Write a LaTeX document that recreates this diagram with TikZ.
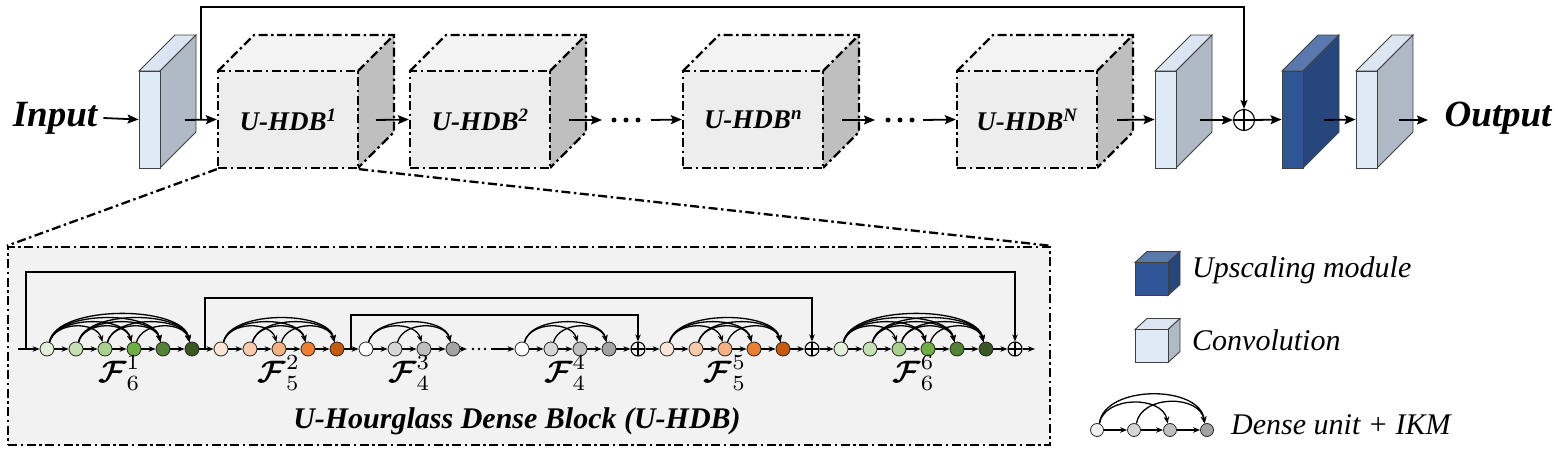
\documentclass[tikz,border=0pt]{standalone}
\usepackage{fontspec}
\setmainfont{Liberation Serif}
\usepackage{amsmath,bm,graphicx}
\usetikzlibrary{arrows.meta,calc}
\definecolor{cfront}{HTML}{EDEDED}
\definecolor{ctop}{HTML}{F3F3F3}
\definecolor{cside}{HTML}{BFBFBF}
\definecolor{vfront}{HTML}{DEEAF6}
\definecolor{vtop}{HTML}{DCE6F2}
\definecolor{vside}{HTML}{B0BAC6}
\definecolor{ufront}{HTML}{2F5597}
\definecolor{utop}{HTML}{5A78AE}
\definecolor{uside}{HTML}{27467C}
\definecolor{boxbg}{HTML}{F2F2F2}
\definecolor{ga}{HTML}{E2F0D9}
\definecolor{gb}{HTML}{C5E0B4}
\definecolor{gc}{HTML}{A9D18E}
\definecolor{gd}{HTML}{70AD47}
\definecolor{ge}{HTML}{548235}
\definecolor{gf}{HTML}{385723}
\definecolor{oa}{HTML}{FBE5D6}
\definecolor{ob}{HTML}{F8CBAD}
\definecolor{oc}{HTML}{F4B183}
\definecolor{od}{HTML}{ED7D31}
\definecolor{oe}{HTML}{C55A11}
\definecolor{ka}{HTML}{FFFFFF}
\definecolor{kb}{HTML}{D6D6D6}
\definecolor{kc}{HTML}{BFBFBF}
\definecolor{kd}{HTML}{A3A3A3}
\definecolor{la}{HTML}{EFEFEF}

\newcommand{\dgroup}[3]{%
  \foreach \c [count=\i] in {#3} {
    \node[du, fill=\c] (#1\i) at ({#2+29*(\i-1)},349) {};
    \xdef\dgn{\i}
  }
  \pgfmathtruncatemacro\dgm{\dgn-1}
  \foreach \i [evaluate=\i as \j using int(\i+1)] in {1,...,\dgm} {\draw[sarr] (#1\i) -- (#1\j);}
  \pgfmathtruncatemacro\dgk{\dgn-2}
  \foreach \i in {1,...,\dgk} {
     \pgfmathtruncatemacro\jstart{\i+2}
     \foreach \j in {\jstart,...,\dgn} {
        \pgfmathsetmacro\dy{21+5.5*(\j-\i-2)}
        \draw[darc] (#1\i.70) .. controls +(6,-\dy) and +(-6,-\dy) .. (#1\j.110);
     }
  }
}
\newcommand{\ucube}[3]{%
  \fill[ctop] ({#2-70},71) -- ({#2-34},35) -- ({#2+106},35) -- ({#2+70},71) -- cycle;
  \fill[cside] ({#2+70},71) -- ({#2+106},35) -- ({#2+106},132) -- ({#2+70},168) -- cycle;
  \draw[dd] ({#2-70},71) -- ({#2-34},35) -- ({#2+106},35) -- ({#2+106},132) -- ({#2+70},168);
  \draw[dd] ({#2+70},71) -- ({#2+106},35);
  \node[cubef] (#1) at (#2,119.5) {#3};
}
\newcommand{\slab}[5]{%
  \filldraw[slabedge, fill=#5] ({#2},71) -- ({#2+36},35) -- ({#2+57},35) -- ({#2+21},71) -- cycle;
  \filldraw[slabedge, fill=#4] ({#2+21},71) -- ({#2+57},35) -- ({#2+57},132) -- ({#2+21},168) -- cycle;
  \node[slabf, fill=#3] (#1) at ({#2+10.5},119.5) {};
}
\newcommand{\smallcube}[5]{%
  \filldraw[slabedge, fill=#5] (1135,{#2-16.5}) -- (1147,{#2-27.5}) -- (1180,{#2-27.5}) -- (1168,{#2-16.5}) -- cycle;
  \filldraw[slabedge, fill=#4] (1168,{#2-16.5}) -- (1180,{#2-27.5}) -- (1180,{#2+5.5}) -- (1168,{#2+16.5}) -- cycle;
  \node[slabf, fill=#3, minimum width=33pt, minimum height=33pt] (#1) at (1151.5,#2) {};
}
\newcommand{\flabel}[2]{\scalebox{3.1}{$\bm{\mathcal{F}}^{#1}_{#2}$}}

\begin{document}
\begin{tikzpicture}[x=1pt,y=-1pt,
  dd/.style={dash pattern=on 9pt off 3.5pt on 2.5pt off 3.5pt, line width=2.3pt},
  cubef/.style={rectangle, dd, draw=black, fill=cfront, minimum width=140pt, minimum height=97pt, inner sep=0pt,
     font=\fontsize{27}{30}\selectfont\bfseries\itshape},
  slabedge/.style={draw=black!75, line width=0.9pt},
  slabf/.style={rectangle, draw=black!75, line width=0.9pt, minimum width=21pt, minimum height=97pt, inner sep=0pt},
  du/.style={circle, draw=black!85, line width=0.8pt, minimum size=14pt, inner sep=0pt},
  sarr/.style={line width=1.2pt, -{Stealth[length=7pt,width=5.5pt]}},
  darc/.style={line width=1.3pt, -{Stealth[length=7pt,width=5.5pt]}},
  sline/.style={line width=1.2pt, -{Stealth[length=7pt,width=5.5pt]}},
  tarr/.style={line width=1.8pt, -{Stealth[length=11pt,width=9pt,inset=2pt]}},
  tskip/.style={line width=1.5pt, -{Stealth[length=9pt,width=7pt,inset=2pt]}},
  plusn/.style={circle, draw=black, line width=1.1pt, minimum size=#1, inner sep=0pt,
     path picture={\draw[line width=1.1pt] (path picture bounding box.north) -- (path picture bounding box.south)
       (path picture bounding box.west) -- (path picture bounding box.east);}},
  bigbox/.style={rectangle, dd, draw=black, fill=boxbg, minimum width=1042pt, minimum height=198pt, inner sep=0pt},
  bigtxt/.style={font=\fontsize{37}{40}\selectfont\bfseries\itshape, inner sep=0pt},
  legtxt/.style={font=\fontsize{30}{32}\selectfont\itshape, anchor=west, inner sep=0pt},
  flab/.style={font=\fontsize{10}{12}\selectfont, inner sep=0pt},
  tdot/.style={circle, fill=black, inner sep=0pt, minimum size=5pt},
  bdot/.style={circle, fill=black, inner sep=0pt, minimum size=2.6pt}
]
\useasboundingbox (0,0) rectangle (1558,450);

% ---------- top row ----------
\node[bigtxt] (inp) at (55,118) {Input};
\slab{v1}{139}{vfront}{vside}{vtop}
\ucube{c1}{288}{U-HDB\textsuperscript{1}}
\ucube{c2}{480}{U-HDB\textsuperscript{2}}
\ucube{cn}{753}{U-HDB\textsuperscript{n}}
\ucube{cN}{1027}{U-HDB\textsuperscript{N}}
\slab{v2}{1155}{vfront}{vside}{vtop}
\slab{v3}{1282}{ufront}{uside}{utop}
\slab{v4}{1356}{vfront}{vside}{vtop}
\node[plusn=21pt] (pl) at (1244,120) {};
\node[bigtxt] (out) at (1498,118) {Output};

\coordinate (a1) at (185,120);
\coordinate (s0) at (201,120);
\coordinate (a2) at (376,120);
\coordinate (a3) at (569,120);
\coordinate (a3e) at (602,120);
\coordinate (a4) at (651,120);
\coordinate (a5) at (842,120);
\coordinate (a5e) at (875,120);
\coordinate (a6) at (923,120);
\coordinate (a7) at (1117,120);
\coordinate (a8) at (1200,120);
\coordinate (a9) at (1324,120);
\coordinate (a10) at (1399,120);
\coordinate (a10e) at (1428,120);

\node[tdot] (d1) at (614,120) {};
\node[tdot] (d2) at (626,120) {};
\node[tdot] (d3) at (638,120) {};
\node[tdot] (d4) at (888,120) {};
\node[tdot] (d5) at (900,120) {};
\node[tdot] (d6) at (912,120) {};

\draw[tarr] (inp.east) ++(6,0) -- (v1.west);
\draw[tarr] (a1) -- (c1.west);
\draw[tskip] (s0) -- (201,7) -| (pl.north);
\draw[tarr] (a2) -- (c2.west);
\draw[tarr] (a3) -- (a3e);
\draw[tarr] (a4) -- (cn.west);
\draw[tarr] (a5) -- (a5e);
\draw[tarr] (a6) -- (cN.west);
\draw[tarr] (a7) -- (v2.west);
\draw[tarr] (a8) -- (pl.west);
\draw[tarr] (pl.east) -- (v3.west);
\draw[tarr] (a9) -- (v4.west);
\draw[tarr] (a10) -- (a10e);

% ---------- zoom lines and box ----------
\node[bigbox] (box) at (529,346) {};
\draw[dd] (c1.south west) -- (box.north west);
\draw[dd] (c1.south east) -- (box.north east);

% ---------- U-HDB internals ----------
\dgroup{g}{47}{ga,gb,gc,gd,ge,gf}
\dgroup{o}{221}{oa,ob,oc,od,oe}
\dgroup{k}{366}{ka,kb,kc,kd}
\dgroup{m}{522}{ka,kb,kc,kd}
\node[plusn=14pt] (p1) at (638,349) {};
\dgroup{q}{667}{oa,ob,oc,od,oe}
\node[plusn=14pt] (p2) at (812,349) {};
\dgroup{h}{841}{ga,gb,gc,gd,ge,gf}
\node[plusn=14pt] (p3) at (1015,349) {};

\coordinate (b0) at (18,349);
\coordinate (s1) at (26,349);
\coordinate (s2) at (205,349);
\coordinate (s3) at (351,349);
\coordinate (bd) at (467,349);
\coordinate (bd2) at (491,349);
\coordinate (bend) at (1035,349);
\node[bdot] (e1) at (473,349) {};
\node[bdot] (e2) at (479,349) {};
\node[bdot] (e3) at (485,349) {};

\draw[sarr] (b0) -- (g1);
\draw[sarr] (g6) -- (o1);
\draw[sarr] (o5) -- (k1);
\draw[sarr] (k4) -- (bd);
\draw[sarr] (bd2) -- (m1);
\draw[sarr] (m4) -- (p1);
\draw[sarr] (p1) -- (q1);
\draw[sarr] (q5) -- (p2);
\draw[sarr] (p2) -- (h1);
\draw[sarr] (h6) -- (p3);
\draw[sarr] (p3) -- (bend);

\draw[sline] (s1) -- (26,272) -| (p3.north);
\draw[sline] (s2) -- (205,298) -| (p2.north);
\draw[sline] (s3) -- (351,315) -| (p1.north);

\node[flab] (f1) at (119.5,373) {\flabel{1}{6}};
\node[flab] (f2) at (279,373) {\flabel{2}{5}};
\node[flab] (f3) at (409.5,373) {\flabel{3}{4}};
\node[flab] (f4) at (565.5,373) {\flabel{4}{4}};
\node[flab] (f5) at (725,373) {\flabel{5}{5}};
\node[flab] (f6) at (913.5,373) {\flabel{6}{6}};

\node[font=\fontsize{30}{32}\selectfont\bfseries\itshape, inner sep=0pt] (ttl) at (517,421) {U-Hourglass Dense Block (U-HDB)};

% ---------- legend ----------
\smallcube{lu}{279}{ufront}{uside}{utop}
\smallcube{lc}{346}{vfront}{vside}{vtop}
\node[legtxt] (tu) at (1192,270) {Upscaling module};
\node[legtxt] (tc) at (1192,340) {Convolution};

\node[du, minimum size=13pt, fill=la] (l1) at (1097,430) {};
\node[du, minimum size=13pt, fill=kb] (l2) at (1134,430) {};
\node[du, minimum size=13pt, fill=kc] (l3) at (1170,430) {};
\node[du, minimum size=13pt, fill=kd] (l4) at (1207,430) {};
\draw[sarr] (l1) -- (l2);
\draw[sarr] (l2) -- (l3);
\draw[sarr] (l3) -- (l4);
\draw[darc] (l1.70) .. controls +(5,-28) and +(-5,-28) .. (l3.110);
\draw[darc] (l1.70) .. controls +(5,-39) and +(-5,-39) .. (l4.110);
\draw[darc] (l2.70) .. controls +(5,-29) and +(-5,-29) .. (l4.110);
\node[legtxt] (td) at (1231,425) {Dense unit + IKM};
\end{tikzpicture}
\end{document}
